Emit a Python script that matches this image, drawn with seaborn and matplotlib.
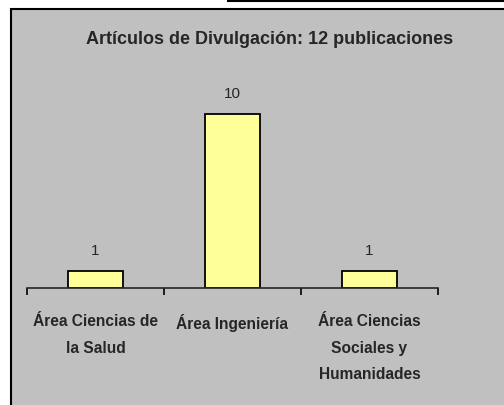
import matplotlib
matplotlib.use("Agg")
import matplotlib.pyplot as plt
import seaborn as sns
from matplotlib.patches import Rectangle

categories = ["Área Ciencias de\nla Salud", "Área Ingeniería", "Área Ciencias\nSociales y\nHumanidades"]
values = [1, 10, 1]
title = "Artículos de Divulgación: 12 publicaciones"

sns.set_style("white")
plt.rcParams['font.family'] = ['Liberation Sans', 'DejaVu Sans']

fig = plt.figure(figsize=(5.04, 4.05), dpi=100)
fig.patch.set_facecolor("white")

# background axes with gray panel
bg = fig.add_axes([0, 0, 1, 1], zorder=0)
bg.set_xlim(0, 504)
bg.set_ylim(405, 0)
bg.axis("off")
bg.add_patch(Rectangle((10.5, 8.5), 600, 500, facecolor="#C0C0C0", edgecolor="black", linewidth=1.5))
bg.plot([227, 504], [0.8, 0.8], color="black", linewidth=1.5, solid_capstyle="butt")

ax = fig.add_axes([27/504, 1 - 288/405, (438 - 27)/504, (288 - 79.2)/405], zorder=1)
ax.set_facecolor("none")

sns.barplot(x=categories, y=values, color="#FFFF99", edgecolor="black",
            linewidth=1.3, width=0.4, saturation=1, ax=ax)

ax.set_xlim(-0.5, 2.5)
ax.set_ylim(0, 12)
for s in ["top", "right", "left"]:
    ax.spines[s].set_visible(False)
ax.spines["bottom"].set_linewidth(1.2)
ax.set_yticks([])
ax.set_xticks([-0.5, 0.5, 1.5, 2.5])
ax.set_xticklabels([])
ax.tick_params(axis="x", which="major", direction="out", length=5, width=1.2, color="black", bottom=True)
ax.set_xticks([0, 1, 2], minor=True)
ax.set_xticklabels(categories, minor=True, fontsize=11.2, fontweight="bold", linespacing=1.95,
                   va="top")
ax.tick_params(axis="x", which="minor", length=0, pad=19)
ax.set_xlabel("")
ax.set_ylabel("")

for i, v in enumerate(values):
    ax.annotate(str(v), (i, v), xytext=(0, 9), textcoords="offset points",
                ha="center", va="bottom", fontsize=11)

fig.text(270/504, 1 - 40/405, title, ha="center", va="center", fontsize=13, fontweight="bold")

fig.savefig("out.png", dpi=100)
